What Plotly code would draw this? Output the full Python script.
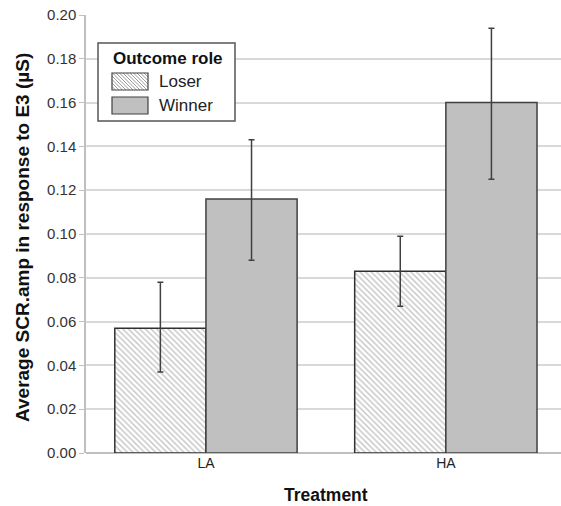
import plotly.graph_objects as go

categories = ["LA", "HA"]
loser_vals = [0.057, 0.083]
loser_err_plus = [0.021, 0.016]
loser_err_minus = [0.020, 0.016]
winner_vals = [0.116, 0.160]
winner_err_plus = [0.027, 0.034]
winner_err_minus = [0.028, 0.035]
y_ticks = [0.00, 0.02, 0.04, 0.06, 0.08, 0.10, 0.12, 0.14, 0.16, 0.18, 0.20]
legend_title = "Outcome role"
series_names = ["Loser", "Winner"]
x_title = "Treatment"
y_title = "Average SCR.amp in response to E3 (µS)"

FONT = "Liberation Sans, Arial, sans-serif"
W, H = 561, 506
ML, MR, MT, MB = 86, 0, 15, 53
PW, PH = W - ML - MR, H - MT - MB


def px(x):
    return (x - ML) / PW


def py(y):
    return (H - MB - y) / PH


HATCH = dict(shape="\\", fgcolor="#8a8a8a", bgcolor="white", size=4, solidity=0.35)

fig = go.Figure()
fig.add_trace(go.Bar(
    name=series_names[0], x=categories, y=loser_vals, showlegend=False,
    marker=dict(color="white", line=dict(color="#303030", width=1.5), pattern=HATCH),
    error_y=dict(type="data", symmetric=False, array=loser_err_plus, arrayminus=loser_err_minus,
                 color="#404040", thickness=1.5, width=3),
))
fig.add_trace(go.Bar(
    name=series_names[1], x=categories, y=winner_vals, showlegend=False,
    marker=dict(color="#c0c0c0", line=dict(color="#404040", width=1.5)),
    error_y=dict(type="data", symmetric=False, array=winner_err_plus, arrayminus=winner_err_minus,
                 color="#404040", thickness=1.5, width=3),
))

# ---- manual legend (box, swatches, labels) ----
shapes = []
annotations = []
bx0, by0, bx1, by1 = 98, 43, 235, 121
shapes.append(dict(type="rect", xref="paper", yref="paper", x0=px(bx0), x1=px(bx1),
                   y0=py(by1), y1=py(by0), fillcolor="white",
                   line=dict(color="#555555", width=1.5), layer="above"))
annotations.append(dict(text="<b>" + legend_title + "</b>", xref="paper", yref="paper",
                        x=px(168), y=py(58), showarrow=False, xanchor="center", yanchor="middle",
                        font=dict(size=17, color="#111111", family=FONT)))
sx0, sx1 = 112, 148
ly0, ly1 = 73, 90
path = ""
c = sx0 - (ly1 - ly0)
while c < sx1:
    xa, ya = c, ly0
    xb, yb = c + (ly1 - ly0), ly1
    if xa < sx0:
        ya = ly0 + (sx0 - xa); xa = sx0
    if xb > sx1:
        yb = ly1 - (xb - sx1); xb = sx1
    if xb > xa:
        path += f"M{px(xa)},{py(ya)} L{px(xb)},{py(yb)} "
    c += 3.5
shapes.append(dict(type="rect", xref="paper", yref="paper", x0=px(sx0), x1=px(sx1),
                   y0=py(ly1), y1=py(ly0), fillcolor="white", line=dict(width=0), layer="above"))
shapes.append(dict(type="path", xref="paper", yref="paper", path=path,
                   line=dict(color="#9a9a9a", width=1), layer="above"))
shapes.append(dict(type="rect", xref="paper", yref="paper", x0=px(sx0), x1=px(sx1),
                   y0=py(ly1), y1=py(ly0), line=dict(color="#404040", width=1.2), layer="above"))
wy0, wy1 = 97, 114
shapes.append(dict(type="rect", xref="paper", yref="paper", x0=px(sx0), x1=px(sx1),
                   y0=py(wy1), y1=py(wy0), fillcolor="#c0c0c0",
                   line=dict(color="#404040", width=1.2), layer="above"))
for name, yc in zip(series_names, [(ly0 + ly1) / 2, (wy0 + wy1) / 2]):
    annotations.append(dict(text=name, xref="paper", yref="paper", x=px(157), y=py(yc),
                            showarrow=False, xanchor="left", yanchor="middle",
                            font=dict(size=17, color="#222222", family=FONT)))

# axis titles as annotations for exact placement
annotations.append(dict(text="<b>" + y_title + "</b>", xref="paper", yref="paper",
                        x=px(22), y=py(238), textangle=-90, showarrow=False,
                        xanchor="center", yanchor="middle",
                        font=dict(size=19, color="#111111", family=FONT)))
annotations.append(dict(text="<b>" + x_title + "</b>", xref="paper", yref="paper",
                        x=px(326), y=py(495), showarrow=False,
                        xanchor="center", yanchor="middle",
                        font=dict(size=17.5, color="#111111", family=FONT)))

fig.update_layout(
    width=W, height=H,
    margin=dict(l=ML, r=MR, t=MT, b=MB),
    paper_bgcolor="white", plot_bgcolor="white",
    barmode="group", bargap=0.24, bargroupgap=0,
    font=dict(family=FONT, size=12, color="#333333"),
    showlegend=False,
    shapes=shapes,
    annotations=annotations,
    xaxis=dict(
        range=[-0.5, 1.48], automargin=False,
        showline=False, showgrid=False, ticks="",
        tickfont=dict(size=14, color="#222222"),
    ),
    yaxis=dict(
        range=[0, 0.2], tickvals=y_ticks, tickformat=".2f", automargin=False,
        showgrid=True, gridcolor="#d9d9d9", gridwidth=1.5,
        showline=True, linecolor="#bfbfbf", linewidth=1.5,
        ticks="outside", ticklen=5, tickcolor="#bfbfbf",
        tickfont=dict(size=15, color="#333333"),
        zeroline=True, zerolinecolor="#bfbfbf", zerolinewidth=1.5,
    ),
)

fig.write_html(
    "out.html",
    config={"displayModeBar": False},
    post_script="document.body.style.margin='0';document.body.style.overflow='hidden';",
)
